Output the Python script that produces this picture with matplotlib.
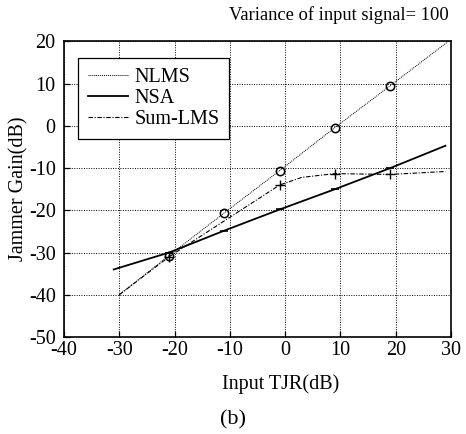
import matplotlib
matplotlib.use("Agg")
import matplotlib.pyplot as plt
from matplotlib.lines import Line2D

plt.rcParams['font.family'] = ['Liberation Serif', 'DejaVu Serif']
plt.rcParams['axes.unicode_minus'] = False

# Data
nlms_x = [-30, -21, -11, -1, 9, 19, 29.5]
nlms_y = [-40, -30.7, -20.6, -10.6, -0.4, 9.5, 20]

nsa_x = [-31, -21, -11, -1, 9, 19, 29]
nsa_y = [-34, -30, -24.8, -19.8, -15, -10, -4.7]

sum_x = [-30, -21, -11, -1, 3, 9, 19, 29]
sum_y = [-40, -31, -22.5, -14, -12.2, -11.3, -11.5, -10.8]
sum_marks = [1, 3, 5, 6]

xticks = [-40, -30, -20, -10, 0, 10, 20, 30]
yticks = [-50, -40, -30, -20, -10, 0, 10, 20]

fig = plt.figure(figsize=(4.66, 4.34), dpi=100)
ax = fig.add_axes([0.1373, 0.2235, 0.8305, 0.681])

ax.plot(nlms_x, nlms_y, color='black', lw=0.7, ls=(0, (1, 1)),
        marker='o', markevery=[1, 2, 3, 4, 5], ms=6, mfc='none', mew=1.1)
ax.plot(nsa_x, nsa_y, color='black', lw=1.3, ls='-',
        marker='_', markevery=[1, 2, 3, 4, 5], ms=6, mew=1.2)
ax.plot(sum_x, sum_y, color='black', lw=0.8, ls=(0, (4, 1.5, 1, 1.5)),
        marker='+', markevery=sum_marks, ms=7, mew=1.0)

ax.set_xlim(-40, 30)
ax.set_ylim(-50, 20)
ax.set_xticks(xticks)
ax.set_yticks(yticks)
ax.tick_params(direction='in', length=4, width=0.9, labelsize=14.5)
ax.tick_params(axis='y', pad=6)
ax.tick_params(axis='x', pad=3)
ax.grid(True, color='black', ls=(0, (1, 1.5)), lw=0.7)
for s in ax.spines.values():
    s.set_linewidth(1.2)

handles = [
    Line2D([], [], color='black', lw=0.7, ls=(0, (1, 1))),
    Line2D([], [], color='black', lw=1.3, ls='-'),
    Line2D([], [], color='black', lw=0.8, ls=(0, (4, 1.5, 1, 1.5))),
]
leg = ax.legend(handles, ['NLMS', 'NSA', 'Sum-LMS'], loc='upper left',
                bbox_to_anchor=(0.036, 0.944), borderaxespad=0,
                fontsize=14.5, handlelength=2.0, handletextpad=0.3,
                labelspacing=0.1, borderpad=0.5, fancybox=False,
                framealpha=1, edgecolor='black')
leg.get_frame().set_linewidth(0.9)

ax.set_xlabel('Input TJR(dB)', fontsize=14.5, labelpad=10)
ax.xaxis.label.set_x(0.56)
ax.set_ylabel('Jammer Gain(dB)', fontsize=14.5, labelpad=0)
fig.text(0.491, 0.965, 'Variance of input signal= 100', fontsize=13.3, ha='left', va='center')
fig.text(0.50, 0.032, '(b)', fontsize=16, ha='center', va='center')

fig.savefig('out.png', dpi=100)
